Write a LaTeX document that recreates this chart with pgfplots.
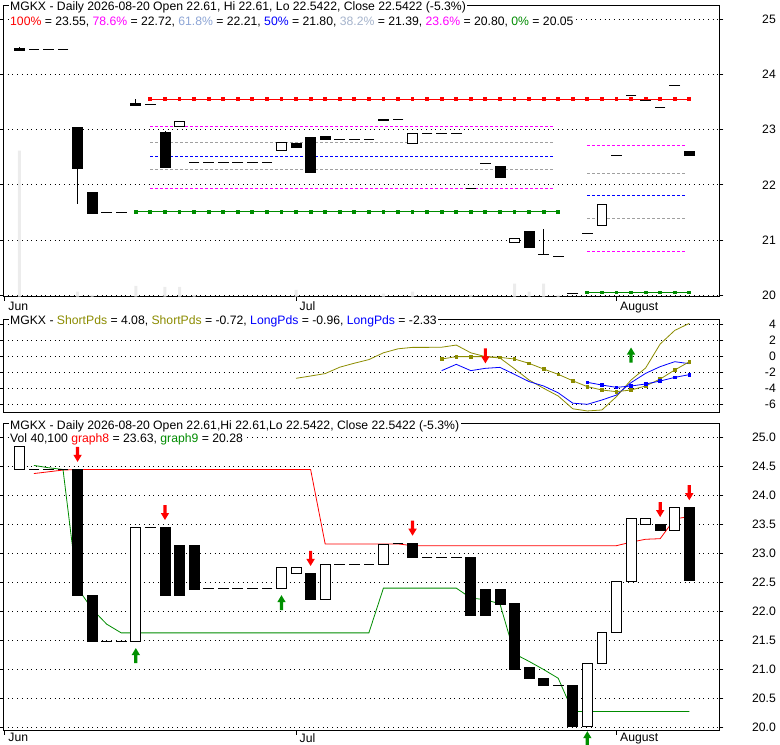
\documentclass[border=0pt]{standalone}
\usepackage{pgfplots}
\pgfplotsset{compat=1.18}
\usepackage{fontspec}
\setmainfont{Liberation Sans}

\definecolor{fibred}{HTML}{FF0000}
\definecolor{fibmag}{HTML}{FF00FF}
\definecolor{fibgray}{HTML}{A0A0A0}
\definecolor{fibblue}{HTML}{0000FF}
\definecolor{fibgreen}{HTML}{008C00}
\definecolor{lblA}{HTML}{8EA6D6}
\definecolor{lblB}{HTML}{A6B4CC}
\definecolor{olivec}{HTML}{8C8C00}
\definecolor{volgray}{HTML}{ECECEC}
\definecolor{arrgreen}{HTML}{009000}

\pgfdeclareplotmark{arrdn}{%
  \pgfpathmoveto{\pgfpoint{-1.6pt}{7.5pt}}%
  \pgfpathlineto{\pgfpoint{1.6pt}{7.5pt}}%
  \pgfpathlineto{\pgfpoint{1.6pt}{-0.5pt}}%
  \pgfpathlineto{\pgfpoint{4.2pt}{-0.5pt}}%
  \pgfpathlineto{\pgfpoint{0pt}{-7.5pt}}%
  \pgfpathlineto{\pgfpoint{-4.2pt}{-0.5pt}}%
  \pgfpathlineto{\pgfpoint{-1.6pt}{-0.5pt}}%
  \pgfpathclose\pgfusepath{fill}}
\pgfdeclareplotmark{arrup}{%
  \pgfpathmoveto{\pgfpoint{-1.6pt}{-7.5pt}}%
  \pgfpathlineto{\pgfpoint{1.6pt}{-7.5pt}}%
  \pgfpathlineto{\pgfpoint{1.6pt}{0.5pt}}%
  \pgfpathlineto{\pgfpoint{4.2pt}{0.5pt}}%
  \pgfpathlineto{\pgfpoint{0pt}{7.5pt}}%
  \pgfpathlineto{\pgfpoint{-4.2pt}{0.5pt}}%
  \pgfpathlineto{\pgfpoint{-1.6pt}{0.5pt}}%
  \pgfpathclose\pgfusepath{fill}}

\newcommand{\tf}{\fontsize{12.2}{14}\selectfont}
% candle body: left x, right x, low, high, fill
\newcommand{\rb}[5]{\addplot[draw=black, fill=#5, line width=0.8pt, solid, mark=none]
  coordinates {(#1,#3) (#2,#3) (#2,#4) (#1,#4)} --cycle;}
% wick: x, low, high
\newcommand{\wk}[3]{\addplot[black, line width=0.8pt, solid, mark=none] coordinates {(#1,#2) (#1,#3)};}

\pgfplotsset{panel/.style={scale only axis, width=716.3pt, anchor=north west,
  xmin=-1.12, xmax=48.06,
  axis line style={line width=0.8pt},
  tick align=outside, major tick length=4pt,
  yticklabel pos=right, ytick pos=both,
  ymajorgrids=true,
  grid style={black, line width=0.8pt, dash pattern=on 0.8pt off 3.9pt},
  tick style={black, line width=0.8pt},
  tick label style={font=\tf},
  yticklabel style={anchor=east, inner sep=0pt, xshift=52.7pt},
  xticklabel style={anchor=north west, inner sep=0pt, xshift=3.5pt},
  /pgf/number format/assume math mode=true},
  dashes/.style={only marks, mark=-, mark size=5.3pt, mark options={black, line width=1pt}}}

\begin{document}
\begin{tikzpicture}
\useasboundingbox (0pt,0pt) rectangle (780pt,-745pt);

% ---------------- top panel ----------------
\begin{axis}[panel, at={(3pt,-5pt)}, height=291.7pt,
  ymin=19.975, ymax=25.253, ytick={20,21,22,23,24,25},
  xtick={-1,19,41}, xticklabels={Jun,Jul,August}, xtick pos=bottom,
  xticklabel style={yshift=-1pt}]
\addplot[ybar, bar width=3pt, fill=volgray, draw=none] coordinates {
 (0,22.62) (4,20.065) (5,20.01) (8,20.17) (10,20.155) (11,20.155) (12,20.01)
 (19,20.10) (25,20.03) (27,20.065) (31,20.01) (34,20.21) (35,20.065) (36,20.21) (37,20.01)};
% Fibonacci levels, first set
\addplot[fibmag, line width=0.8pt, dash pattern=on 3pt off 2pt] coordinates {(9,23.06) (36.8,23.06)};
\addplot[fibgray, line width=0.8pt, dash pattern=on 3pt off 2pt] coordinates {(9,22.77) (36.8,22.77)};
\addplot[fibblue, line width=0.8pt, dash pattern=on 3pt off 2pt] coordinates {(9,22.52) (36.8,22.52)};
\addplot[fibgray, line width=0.8pt, dash pattern=on 3pt off 2pt] coordinates {(9,22.28) (36.8,22.28)};
\addplot[fibmag, line width=0.8pt, dash pattern=on 3pt off 2pt] coordinates {(9,21.94) (36.8,21.94)};
\addplot[fibgreen, line width=1pt, mark=square*, mark size=1.4pt] coordinates {
 (8,21.51) (9,21.51) (10,21.51) (11,21.51) (12,21.51) (13,21.51) (14,21.51) (15,21.51)
 (16,21.51) (17,21.51) (18,21.51) (19,21.51) (20,21.51) (21,21.51) (22,21.51) (23,21.51)
 (24,21.51) (25,21.51) (26,21.51) (27,21.51) (28,21.51) (29,21.51) (30,21.51) (31,21.51)
 (32,21.51) (33,21.51) (34,21.51) (35,21.51) (36,21.51) (37,21.51)};
% second set
\addplot[fibmag, line width=0.8pt, dash pattern=on 3pt off 2pt] coordinates {(39,22.72) (45.8,22.72)};
\addplot[fibgray, line width=0.8pt, dash pattern=on 3pt off 2pt] coordinates {(39,22.21) (45.8,22.21)};
\addplot[fibblue, line width=0.8pt, dash pattern=on 3pt off 2pt] coordinates {(39,21.80) (45.8,21.80)};
\addplot[fibgray, line width=0.8pt, dash pattern=on 3pt off 2pt] coordinates {(39,21.39) (45.8,21.39)};
\addplot[fibmag, line width=0.8pt, dash pattern=on 3pt off 2pt] coordinates {(39,20.80) (45.8,20.80)};
\addplot[fibgreen, line width=1pt, mark=square*, mark size=1.4pt] coordinates {
 (39,20.05) (40,20.05) (41,20.05) (42,20.05) (43,20.05) (44,20.05) (45,20.05) (46,20.05)};
\addplot[fibred, line width=1pt, mark=square*, mark size=1.4pt] coordinates {
 (9,23.55) (10,23.55) (11,23.55) (12,23.55) (13,23.55) (14,23.55) (15,23.55) (16,23.55)
 (17,23.55) (18,23.55) (19,23.55) (20,23.55) (21,23.55) (22,23.55) (23,23.55) (24,23.55)
 (25,23.55) (26,23.55) (27,23.55) (28,23.55) (29,23.55) (30,23.55) (31,23.55) (32,23.55)
 (33,23.55) (34,23.55) (35,23.55) (36,23.55) (37,23.55) (38,23.55) (39,23.55) (40,23.55)
 (41,23.55) (42,23.55) (43,23.55) (44,23.55) (45,23.55) (46,23.55)};
% candles: wicks
\wk{0}{24.465}{24.49}
\wk{4}{21.66}{22.29}
\wk{8}{23.47}{23.55}
\wk{10}{22.95}{22.97}
\wk{36}{20.74}{21.20}
% candles: bodies
\rb{-0.34}{0.34}{24.44}{24.465}{black}
\rb{3.66}{4.34}{22.29}{23.03}{black}
\rb{4.66}{5.34}{21.49}{21.86}{black}
\rb{7.66}{8.34}{23.44}{23.47}{black}
\rb{9.66}{10.34}{22.31}{22.95}{black}
\rb{10.66}{11.34}{23.05}{23.15}{white}
\rb{17.66}{18.34}{22.62}{22.77}{white}
\rb{18.66}{19.34}{22.68}{22.74}{black}
\rb{19.66}{20.34}{22.22}{22.85}{black}
\rb{20.66}{21.34}{22.82}{22.88}{black}
\rb{24.66}{25.34}{23.17}{23.19}{black}
\rb{26.66}{27.34}{22.74}{22.93}{white}
\rb{32.66}{33.34}{22.13}{22.34}{black}
\rb{33.66}{34.34}{20.96}{21.03}{white}
\rb{34.66}{35.34}{20.86}{21.16}{black}
\rb{39.66}{40.34}{21.26}{21.65}{white}
\rb{45.66}{46.34}{22.54}{22.61}{black}
% candles: open = close
\addplot[dashes] coordinates {
 (1,24.45) (2,24.45) (3,24.45) (6,21.49) (7,21.49) (9,23.46)
 (12,22.41) (13,22.41) (14,22.41) (15,22.41) (16,22.41) (17,22.41)
 (22,22.82) (23,22.82) (24,22.82) (26,23.19) (28,22.93) (29,22.93) (30,22.93)
 (31,21.94) (32,22.39) (36,20.74) (37,20.71) (38,20.04) (39,21.12)
 (41,22.53) (42,23.62) (43,23.52) (44,23.40) (45,23.80)};
\end{axis}

% ---------------- middle panel ----------------
\begin{axis}[panel, at={(3pt,-319.3pt)}, height=93.4pt,
  ymin=-7.09, ymax=4.59, ytick={-6,-4,-2,0,2,4}, xtick=\empty]
\addplot[olivec, line width=0.8pt] coordinates {
 (19,-2.79) (20,-2.5) (21,-2.2) (22,-1.4) (23,-0.9) (24,-0.45) (25,0.4) (26,0.9)
 (27,1.08) (28,1.08) (29,1.1) (30,1.37) (31,0.4) (32,-0.08) (33,-0.25) (34,-1.6)
 (35,-3.0) (36,-4.04) (37,-5.0) (38,-6.6) (39,-6.87) (40,-6.75) (41,-5.08) (42,-3.0)
 (43,-1.5) (44,1.5) (45,3.2) (46,4.08)};
\addplot[fibblue, line width=0.8pt] coordinates {
 (29,-1.83) (30,-1.04) (31,-1.83) (32,-1.54) (33,-1.42) (34,-2.3) (35,-3.2) (36,-3.75)
 (37,-4.6) (38,-5.9) (39,-6.04) (40,-5.5) (41,-4.88) (42,-3.33) (43,-2.17) (44,-1.33)
 (45,-0.71) (46,-0.96)};
\addplot[olivec, line width=0.8pt, mark=square*, mark size=1.3pt] coordinates {
 (29,-0.375) (30,-0.08) (31,-0.08) (32,-0.08) (33,-0.17) (34,-0.375) (35,-0.92) (36,-1.63)
 (37,-2.29) (38,-3.1) (39,-3.83) (40,-4.25) (41,-4.46) (42,-4.25) (43,-3.75) (44,-2.88)
 (45,-1.75) (46,-0.72)};
\addplot[fibblue, line width=0.8pt, mark=square*, mark size=1.3pt] coordinates {
 (39,-3.29) (40,-3.63) (41,-3.92) (42,-3.75) (43,-3.5) (44,-3.13) (45,-2.67) (46,-2.33)};
\addplot[only marks, red, mark=arrdn] coordinates {(32,0.02)};
\addplot[only marks, arrgreen, mark=arrup] coordinates {(42,0.12)};
\end{axis}

% ---------------- bottom panel ----------------
\begin{axis}[panel, at={(3pt,-423.3pt)}, height=307.4pt, clip=false,
  ymin=19.948, ymax=25.234, ytick={20,20.5,21,21.5,22,22.5,23,23.5,24,24.5,25},
  yticklabel style={/pgf/number format/.cd, fixed, fixed zerofill, precision=1},
  xtick={-1,19,41}, xticklabels={Jun,Jul,August}, xtick pos=bottom,
  xticklabel style={yshift=1.4pt}]
\addplot[fibred, line width=0.8pt] coordinates {
 (1,24.37) (2,24.40) (3,24.43) (4,24.44) (20,24.44) (21,23.16) (26,23.16) (27,23.13)
 (41,23.13) (42,23.19) (43,23.24) (44,23.25) (45,23.59) (46,23.63)};
\addplot[fibgreen, line width=0.8pt] coordinates {
 (1,24.51) (2,24.47) (3,24.44) (4,22.40) (5,22.04) (6,21.78) (7,21.63) (24,21.63)
 (25,22.40) (30,22.40) (31,22.23) (32,22.20) (33,22.13) (34,21.27) (35,21.14) (36,21.00)
 (37,20.85) (38,20.28) (46,20.28)};
\rb{-0.34}{0.34}{24.44}{24.83}{white}
\rb{3.66}{4.34}{22.27}{24.44}{black}
\rb{4.66}{5.34}{21.48}{22.28}{black}
\rb{7.66}{8.34}{21.48}{23.45}{white}
\rb{9.66}{10.34}{22.28}{23.45}{black}
\rb{10.66}{11.34}{22.28}{23.14}{black}
\rb{11.66}{12.34}{22.38}{23.14}{black}
\rb{17.66}{18.34}{22.40}{22.76}{white}
\rb{18.66}{19.34}{22.65}{22.76}{white}
\rb{19.66}{20.34}{22.20}{22.66}{black}
\rb{20.66}{21.34}{22.20}{22.81}{white}
\rb{24.66}{25.34}{22.81}{23.16}{white}
\rb{26.66}{27.34}{22.93}{23.17}{black}
\rb{30.66}{31.34}{21.93}{22.93}{black}
\rb{31.66}{32.34}{21.93}{22.38}{black}
\rb{32.66}{33.34}{22.12}{22.38}{black}
\rb{33.66}{34.34}{21.01}{22.13}{black}
\rb{34.66}{35.34}{20.84}{21.03}{black}
\rb{35.66}{36.34}{20.73}{20.85}{black}
\rb{37.66}{38.34}{20.03}{20.72}{black}
\rb{38.66}{39.34}{20.03}{21.11}{white}
\rb{39.66}{40.34}{21.11}{21.64}{white}
\rb{40.66}{41.34}{21.64}{22.51}{white}
\rb{41.66}{42.34}{22.52}{23.60}{white}
\rb{42.66}{43.34}{23.50}{23.60}{white}
\rb{43.66}{44.34}{23.39}{23.50}{black}
\rb{44.66}{45.34}{23.39}{23.79}{white}
\rb{45.66}{46.34}{22.53}{23.79}{black}
\addplot[dashes] coordinates {
 (1,24.44) (2,24.44) (3,24.44) (6,21.48) (7,21.48) (9,23.45)
 (13,22.40) (14,22.40) (15,22.40) (16,22.40) (17,22.40)
 (22,22.81) (23,22.81) (24,22.81) (26,23.17) (28,22.93) (29,22.93) (30,22.93) (37,20.72)};
\addplot[only marks, red, mark=arrdn] coordinates {
 (4,24.70) (10,23.70) (20,22.91) (27,23.43) (44,23.75) (46,24.04)};
\addplot[only marks, arrgreen, mark=arrup] coordinates {
 (8,21.24) (18,22.15) (39,19.81)};
\end{axis}

% ---------------- panel titles ----------------
\tikzset{ttl/.style={anchor=base west, fill=white, inner xsep=1.5pt, inner ysep=1pt, font=\tf}}
\node[ttl] at (8.5pt,-10pt) {MGKX - Daily 2026-08-20 Open 22.61, Hi 22.61, Lo 22.5422, Close 22.5422 (-5.3\%)};
\node[ttl] at (8.5pt,-25.3pt) {{\color{fibred}100\%} = 23.55, {\color{fibmag}78.6\%} = 22.72, {\color{lblA}61.8\%} = 22.21, {\color{fibblue}50\%} = 21.80, {\color{lblB}38.2\%} = 21.39, {\color{fibmag}23.6\%} = 20.80, {\color{fibgreen}0\%} = 20.05};
\node[ttl] at (8.5pt,-324pt) {MGKX - {\color{olivec}ShortPds} = 4.08, {\color{olivec}ShortPds} = -0.72, {\color{fibblue}LongPds} = -0.96, {\color{fibblue}LongPds} = -2.33};
\node[ttl] at (8.5pt,-429.3pt) {MGKX - Daily 2026-08-20 Open 22.61,Hi 22.61,Lo 22.5422, Close 22.5422 (-5.3\%)};
\node[ttl] at (8.5pt,-442.7pt) {Vol 40,100 {\color{fibred}graph8} = 23.63, {\color{fibgreen}graph9} = 20.28};
\end{tikzpicture}
\end{document}
